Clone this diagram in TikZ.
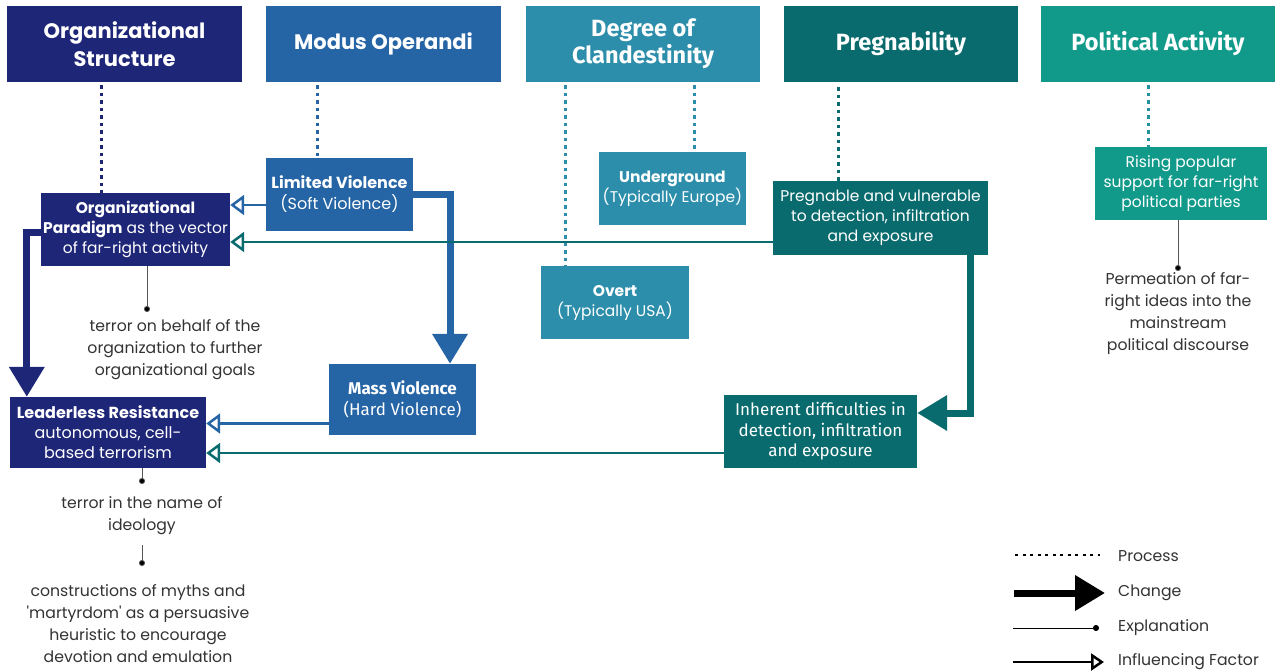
\documentclass[tikz,border=0pt]{standalone}
\usepackage{fontspec}
\setmainfont{Poppins}[Ligatures=TeXOff]
\newfontfamily\cond{Fira Sans}
\usetikzlibrary{arrows.meta,calc}
\definecolor{cnavy}{HTML}{1E2678}
\definecolor{cmodus}{HTML}{2564A5}
\definecolor{cclan}{HTML}{2C8EAB}
\definecolor{cpreg}{HTML}{0A6B6E}
\definecolor{cpol}{HTML}{11998A}
\definecolor{ctxt}{HTML}{333333}
\definecolor{cexpl}{HTML}{555555}
\tikzset{
  box/.style={rectangle, inner sep=0pt, text=white, align=center, font=\fontsize{15.5}{20}\selectfont},
  hdr/.style={box, minimum width=235pt, minimum height=76pt, font=\fontsize{21}{28}\selectfont\bfseries},
  hdrc/.style={box, minimum width=235pt, minimum height=76pt, font=\cond\fontsize{23.5}{27}\selectfont\bfseries},
  proc/.style={line width=3pt, dash pattern=on 3.5pt off 4pt},
  chg/.style={line width=7pt, -{Triangle[length=30pt,width=34pt]}},
  inf/.style={line width=2.5pt, -{Triangle[open,length=14pt,width=20pt]}},
  expl/.style={line width=0.8pt, draw=cexpl, -{Circle[length=6pt,fill=black]}},
  note/.style={align=center, text=ctxt, inner sep=0pt, font=\fontsize{15.7}{22}\selectfont},
  legtext/.style={anchor=west, text=ctxt, inner sep=0pt, font=\fontsize{15.7}{18}\selectfont}
}
\begin{document}
\begin{tikzpicture}[x=1pt,y=-1pt]
\useasboundingbox[fill=white] (0,0) rectangle (1275,672);

% headers
\node[hdr, fill=cnavy] (hOS) at (124.5,44) {Organizational\\Structure};
\node[hdr, fill=cmodus] (hMO) at (383.5,44) {Modus Operandi};
\node[hdrc, fill=cclan, minimum width=234pt] (hDC) at (643,44) {Degree of\\Clandestinity};
\node[hdrc, fill=cpreg, minimum width=234pt] (hPR) at (901,44) {Pregnability};
\node[hdrc, fill=cpol, minimum width=234pt] (hPA) at (1158,44) {Political Activity};

% nodes
\node[box, fill=cnavy, minimum width=189pt, minimum height=73pt] (para) at (135.5,229.5)
  {\textbf{Organizational}\\\textbf{Paradigm} as the vector\\of far-right activity};
\node[box, fill=cmodus, minimum width=147pt, minimum height=73pt, font=\fontsize{16}{21}\selectfont] (lim) at (339.5,194.5)
  {\textbf{Limited Violence}\\(Soft Violence)};
\node[box, fill=cclan, minimum width=147pt, minimum height=73pt] (und) at (672.5,188.5)
  {\textbf{Underground}\\(Typically Europe)};
\node[box, fill=cclan, minimum width=148pt, minimum height=73pt] (ovt) at (615,302.5)
  {\textbf{Overt}\\(Typically USA)};
\node[box, fill=cpreg, minimum width=215pt, minimum height=74pt] (preg) at (880.5,218)
  {Pregnable and vulnerable\\to detection, infiltration\\and exposure};
\node[box, fill=cpol, minimum width=172pt, minimum height=73pt] (ris) at (1181,183.5)
  {Rising popular\\support for far-right\\political parties};
\node[box, fill=cmodus, minimum width=147pt, minimum height=71pt, font=\cond\fontsize{17}{21}\selectfont] (mass) at (402.5,399.5)
  {\textbf{Mass Violence}\\(Hard Violence)};
\node[box, fill=cnavy, minimum width=196pt, minimum height=71pt, font=\fontsize{16}{20}\selectfont] (lead) at (108,432.5)
  {\textbf{Leaderless Resistance}\\autonomous, cell-\\based terrorism};
\node[box, fill=cpreg, minimum width=193pt, minimum height=73pt, font=\cond\fontsize{17}{20.5}\selectfont] (inh) at (820.5,431.5)
  {Inherent difficulties in\\detection, infiltration\\and exposure};

% explanation texts
\node[note] (perm) at (1178,314) {Permeation of far-\\right ideas into the\\mainstream\\political discourse};
\node[note] (tob) at (175,350) {terror on behalf of the\\organization to further\\organizational goals};
\node[note] (tin) at (142,516) {terror in the name of\\ideology};
\node[note] (myth) at (138,624) {constructions of myths and\\'martyrdom' as a persuasive\\heuristic to encourage\\devotion and emulation};

% process lines
\coordinate (p1) at (101,0);
\draw[proc, cnavy] ($(hOS.south -| p1)+(0,3)$) -- (para.north -| p1);
\coordinate (p2) at (317,0);
\draw[proc, cmodus] ($(hMO.south -| p2)+(0,3)$) -- (lim.north -| p2);
\coordinate (p3) at (565,0);
\draw[proc, cclan] ($(hDC.south -| p3)+(0,3)$) -- (ovt.north -| p3);
\coordinate (p4) at (694,0);
\draw[proc, cclan] ($(hDC.south -| p4)+(0,3)$) -- (und.north -| p4);
\coordinate (p5) at (838,0);
\draw[proc, cpreg] ($(hPR.south -| p5)+(0,5)$) -- (preg.north -| p5);
\coordinate (p6) at (1148,0);
\draw[proc, cclan!60!cpol] ($(hPA.south -| p6)+(0,3)$) -- (ris.north -| p6);

% change arrows
\draw[chg, cnavy] ($(para.west)+(0,2.5)$) -| ($(lead.north west)+(17,0)$);
\draw[chg, cmodus] (lim.east) -| ($(mass.north)+(47.5,0)$);
\draw[chg, cpreg] ($(preg.south east)+(-18,0)$) |- ($(inh.east)+(0,-18.5)$);

% influencing arrows
\coordinate (i1) at ($(lim.west)+(0,10.5)$);
\draw[inf, cmodus] (i1) -- (i1 -| para.east);
\coordinate (i2) at ($(preg.west)+(0,24)$);
\draw[inf, cpreg] (i2) -- (i2 -| para.east);
\coordinate (i3) at ($(mass.west)+(0,24)$);
\draw[inf, cmodus] (i3) -- (i3 -| lead.east);
\coordinate (i4) at ($(inh.west)+(0,21.5)$);
\draw[inf, cpreg] (i4) -- (i4 -| lead.east);

% explanation lines
\coordinate (e1) at (147,312);
\draw[expl] (para.south -| e1) -- (e1);
\coordinate (e2) at (142,484);
\draw[expl] (lead.south -| e2) -- (e2);
\coordinate (e3a) at (142,545);
\coordinate (e3) at (142,566);
\draw[expl] (e3a) -- (e3);
\coordinate (e4) at (1178,271);
\draw[expl] (ris.south -| e4) -- (e4);

% legend
\coordinate (l1a) at (1015,555); \coordinate (l1b) at (1100,555);
\draw[proc, black, line width=2.5pt, dash pattern=on 3pt off 4.5pt] (l1a) -- (l1b);
\node[legtext] (lt1) at (1118,556) {Process};
\coordinate (l2a) at (1014,593); \coordinate (l2b) at (1105,593);
\draw[chg, black] (l2a) -- (l2b);
\node[legtext] (lt2) at (1118,593) {Change};
\coordinate (l3a) at (1013,628); \coordinate (l3b) at (1099,628);
\draw[expl, black] (l3a) -- (l3b);
\node[legtext] (lt3) at (1118,628) {Explanation};
\coordinate (l4a) at (1013,662); \coordinate (l4b) at (1104,662);
\draw[inf, black, -{Triangle[open,length=13pt,width=17pt]}] (l4a) -- (l4b);
\node[legtext] (lt4) at (1118,662) {Influencing Factor};
\end{tikzpicture}
\end{document}
